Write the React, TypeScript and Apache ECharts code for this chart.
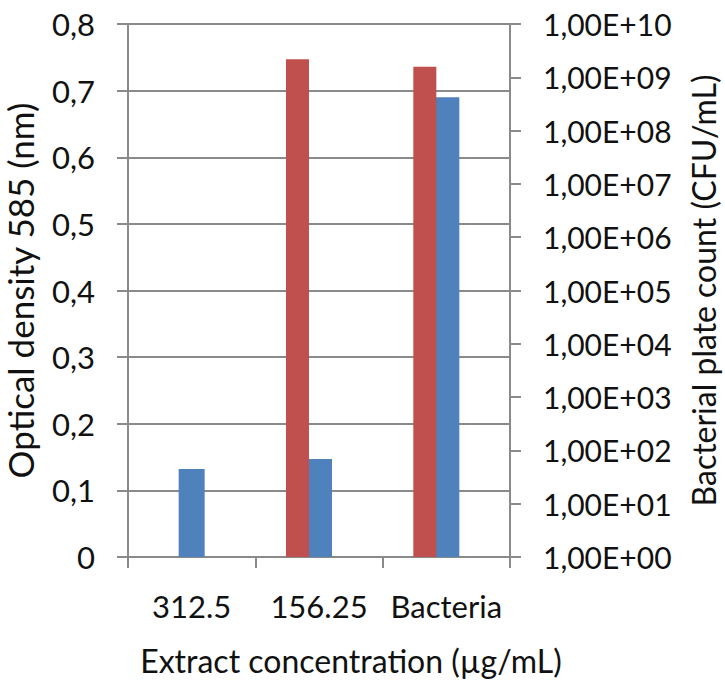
import React, { useEffect, useRef } from "react";
import * as echarts from "echarts";

const categories = ["312.5", "156.25", "Bacteria"];
const opticalDensity = [0.132, 0.147, 0.69];
const plateCount: (number | null)[] = [null, 2.17e9, 1.58e9];
const odTicks = { min: 0, max: 0.8, interval: 0.1 };
const cfuRange = { min: 1, max: 1e10 };

const FONT = "Lato";
const GRAY = "#8a8a8a";
const TXT = "#111111";

export default function App() {
  const ref = useRef<HTMLDivElement>(null);
  useEffect(() => {
    if (!ref.current) return;
    const chart = echarts.init(ref.current, undefined, { renderer: "svg" });
    chart.setOption({
      animation: false,
      backgroundColor: "#ffffff",
      textStyle: { fontFamily: FONT },
      grid: { left: 128, right: 215, top: 24, bottom: 124, containLabel: false, outerBoundsMode: "none" },
      xAxis: [
        {
          type: "category",
          data: categories,
          position: "bottom",
          boundaryGap: true,
          axisLine: { lineStyle: { color: GRAY, width: 2 } },
          axisTick: { show: true, alignWithLabel: false, interval: 0, length: 11, lineStyle: { color: GRAY, width: 2 } },
          axisLabel: { color: TXT, fontSize: 31, fontFamily: FONT, margin: 33, interval: 0 },
        },
        {
          type: "category",
          data: categories,
          show: false,
          position: "bottom",
        },
      ],
      yAxis: [
        {
          type: "value",
          min: odTicks.min,
          max: odTicks.max,
          interval: odTicks.interval,
          position: "left",
          name: "Optical density 585 (nm)",
          nameLocation: "middle",
          nameGap: 91,
          nameRotate: 90,
          nameTextStyle: { color: TXT, fontSize: 35, fontFamily: FONT },
          axisLine: { show: true, lineStyle: { color: GRAY, width: 2 } },
          axisTick: { show: true, length: 11, lineStyle: { color: GRAY, width: 2 } },
          axisLabel: {
            color: TXT,
            fontSize: 31,
            fontFamily: FONT,
            margin: 33,
            formatter: (v: number) => (v === 0 ? "0" : v.toFixed(1).replace(".", ",")),
          },
          splitLine: { show: true, lineStyle: { color: GRAY, width: 2 } },
        },
        {
          type: "log",
          logBase: 10,
          min: cfuRange.min,
          max: cfuRange.max,
          interval: 1,
          position: "right",
          name: "Bacterial plate count (CFU/mL)",
          nameLocation: "middle",
          nameGap: 177,
          nameRotate: 90,
          nameTextStyle: { color: TXT, fontSize: 32, fontFamily: FONT },
          axisLine: { show: true, lineStyle: { color: GRAY, width: 2 } },
          axisTick: { show: true, length: 11, lineStyle: { color: GRAY, width: 2 } },
          axisLabel: {
            color: TXT,
            fontSize: 30,
            fontFamily: FONT,
            margin: 33,
            formatter: (v: number) => {
              const e = Math.round(Math.log10(v));
              return "1,00E+" + String(e).padStart(2, "0");
            },
          },
          splitLine: { show: false },
        },
      ],
      graphic: [
        {
          type: "text",
          x: 351,
          y: 660,
          style: {
            text: "Extract concentration (µg/mL)",
            fill: TXT,
            fontSize: 32,
            fontFamily: FONT,
            textAlign: "center",
            textVerticalAlign: "middle",
          },
        },
      ],
      series: [
        {
          name: "Optical density",
          type: "bar",
          xAxisIndex: 0,
          yAxisIndex: 0,
          data: opticalDensity,
          barWidth: 26,
          itemStyle: { color: "#4F81BD" },
          z: 2,
        },
        {
          name: "Bacterial plate count",
          type: "bar",
          xAxisIndex: 1,
          yAxisIndex: 1,
          data: plateCount.map((v) => (v === null ? "-" : v)),
          barWidth: 23,
          barGap: "87%",
          itemStyle: { color: "#C0504D" },
          z: 3,
        },
        {
          name: "spacer",
          type: "bar",
          xAxisIndex: 1,
          yAxisIndex: 1,
          data: ["-", "-", "-"],
          barWidth: 23,
          barGap: "87%",
          z: 1,
        },
      ],
    });
    return () => chart.dispose();
  }, []);
  return <div ref={ref} style={{ width: 725, height: 681, position: "absolute", left: 0, top: 0 }} />;
}
